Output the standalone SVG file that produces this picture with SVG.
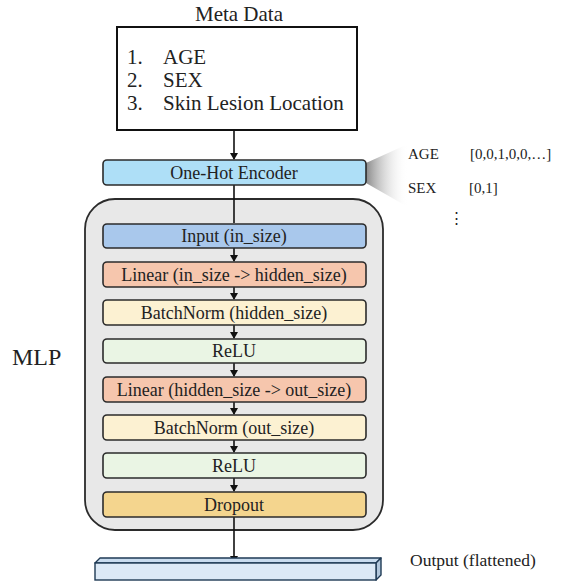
<svg xmlns="http://www.w3.org/2000/svg" width="564" height="582" viewBox="0 0 564 582">
  <style>
    text { font-family: "Liberation Serif", "Times New Roman", serif; fill: #222; }
    .lbl { font-size: 18px; text-anchor: middle; }
    .meta { font-size: 21px; }
    .blk { stroke: #2b2b2b; stroke-width: 1.6; }
    .wire { stroke: #111; stroke-width: 1.6; fill: none; }
    .side { font-size: 15px; }
  </style>
  <defs>
    <marker id="ah" markerWidth="8" markerHeight="8" refX="6" refY="4" orient="auto" markerUnits="userSpaceOnUse">
      <path d="M0,0 L7,4 L0,8 z" fill="#111"/>
    </marker>
    <linearGradient id="fan" x1="0" y1="0" x2="1" y2="0">
      <stop offset="0" stop-color="#8a8a8a"/>
      <stop offset="1" stop-color="#ffffff" stop-opacity="0"/>
    </linearGradient>
  </defs>

  <rect width="564" height="582" fill="#ffffff"/>

  <!-- callout fan from encoder -->
  <polygon points="366,163 408,144 408,207 366,183" fill="url(#fan)"/>

  <!-- metadata input -->
  <g id="meta">
    <text x="239" y="21" class="meta" text-anchor="middle">Meta Data</text>
    <rect x="117" y="27" width="240" height="103" fill="#fff" stroke="#111" stroke-width="2"/>
    <text x="127" y="64" class="meta">1.</text>
    <text x="163" y="64" class="meta">AGE</text>
    <text x="127" y="87" class="meta">2.</text>
    <text x="163" y="87" class="meta">SEX</text>
    <text x="127" y="110" class="meta">3.</text>
    <text x="163" y="110" class="meta">Skin Lesion Location</text>
  </g>

  <!-- MLP container -->
  <g id="mlp">
    <rect x="85" y="199" width="298" height="331" rx="30" fill="#e8e8e8" stroke="#2b2b2b" stroke-width="1.8"/>
    <text x="12" y="365" font-size="24">MLP</text>
  </g>

  <!-- connectors -->
  <g id="connectors">
    <line class="wire" x1="234" y1="130" x2="234" y2="159" marker-end="url(#ah)"/>
    <line class="wire" x1="234" y1="185" x2="234" y2="223"/>
    <line class="wire" x1="234" y1="248" x2="234" y2="261" marker-end="url(#ah)"/>
    <line class="wire" x1="234" y1="287" x2="234" y2="299" marker-end="url(#ah)"/>
    <line class="wire" x1="234" y1="325" x2="234" y2="338" marker-end="url(#ah)"/>
    <line class="wire" x1="234" y1="363" x2="234" y2="376" marker-end="url(#ah)"/>
    <line class="wire" x1="234" y1="402" x2="234" y2="414" marker-end="url(#ah)"/>
    <line class="wire" x1="234" y1="440" x2="234" y2="452" marker-end="url(#ah)"/>
    <line class="wire" x1="234" y1="478" x2="234" y2="491" marker-end="url(#ah)"/>
    <line class="wire" x1="234" y1="517" x2="234" y2="562" marker-end="url(#ah)"/>
  </g>

  <g id="encoder">
    <rect class="blk" x="103" y="160" width="263" height="25" rx="4" fill="#aedff7"/>
    <text class="lbl" x="234" y="179">One-Hot Encoder</text>
  </g>

  <g id="encoding-example">
    <text class="side" x="408" y="159">AGE</text>
    <text class="side" x="470" y="159">[0,0,1,0,0,…]</text>
    <text class="side" x="408" y="193">SEX</text>
    <text class="side" x="469" y="193">[0,1]</text>
    <text class="side" x="456" y="223" text-anchor="middle" fill="#777">⋮</text>
  </g>

  <g id="input">
    <rect class="blk" x="103" y="224" width="263" height="24" rx="4" fill="#a9c8ec"/>
    <text class="lbl" x="234" y="242">Input (in_size)</text>
  </g>
  <g id="linear1">
    <rect class="blk" x="103" y="262" width="263" height="25" rx="4" fill="#f6c6ad"/>
    <text class="lbl" x="234" y="281">Linear (in_size -&gt; hidden_size)</text>
  </g>
  <g id="batchnorm1">
    <rect class="blk" x="103" y="300" width="263" height="25" rx="4" fill="#fcf1d2"/>
    <text class="lbl" x="234" y="319">BatchNorm (hidden_size)</text>
  </g>
  <g id="relu1">
    <rect class="blk" x="103" y="339" width="263" height="24" rx="4" fill="#eaf5e4"/>
    <text class="lbl" x="234" y="357">ReLU</text>
  </g>
  <g id="linear2">
    <rect class="blk" x="103" y="377" width="263" height="25" rx="4" fill="#f6c6ad"/>
    <text class="lbl" x="234" y="396">Linear (hidden_size -&gt; out_size)</text>
  </g>
  <g id="batchnorm2">
    <rect class="blk" x="103" y="415" width="263" height="25" rx="4" fill="#fcf1d2"/>
    <text class="lbl" x="234" y="434">BatchNorm (out_size)</text>
  </g>
  <g id="relu2">
    <rect class="blk" x="103" y="453" width="263" height="25" rx="4" fill="#eaf5e4"/>
    <text class="lbl" x="234" y="472">ReLU</text>
  </g>
  <g id="dropout">
    <rect class="blk" x="103" y="492" width="263" height="25" rx="4" fill="#f4d58e"/>
    <text class="lbl" x="234" y="511">Dropout</text>
  </g>

  <!-- flattened output bar -->
  <g id="output">
    <polygon points="95,563 100,558 381,558 376,563" fill="#c9dcef" stroke="#1f3a55" stroke-width="1.4" stroke-linejoin="round"/>
    <polygon points="376,563 381,558 381,575 376,580" fill="#b2c7dc" stroke="#1f3a55" stroke-width="1.4" stroke-linejoin="round"/>
    <rect x="95" y="563" width="281" height="17" fill="#dce9f6" stroke="#1f3a55" stroke-width="1.4"/>
    <text x="410" y="566" font-size="17.5">Output (flattened)</text>
  </g>
</svg>
